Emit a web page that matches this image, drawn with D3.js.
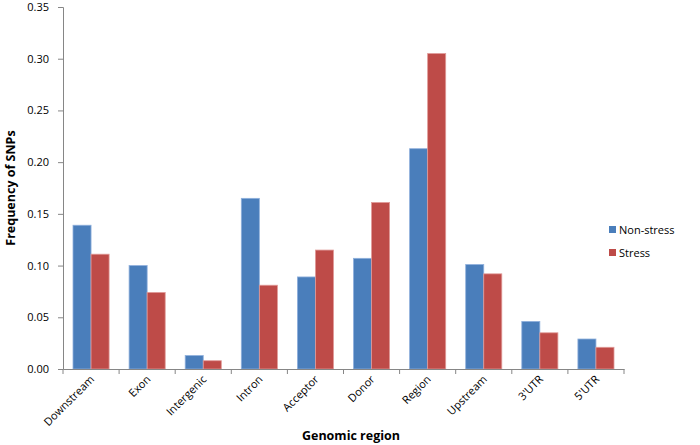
<!DOCTYPE html>
<html>
<head>
<meta charset="utf-8">
<script src="https://cdn.jsdelivr.net/npm/d3@7"></script>
<style>
body { margin: 0; background: #fff; }
svg text { font-family: "Open Sans", "Noto Sans", sans-serif; fill: #000; }
</style>
</head>
<body>
<svg id="chart" width="700" height="445"></svg>
<script>
var regions = ["Downstream", "Exon", "Intergenic", "Intron", "Acceptor", "Donor", "Region", "Upstream", "3'UTR", "5'UTR"];
var non_stress = [0.139, 0.100, 0.013, 0.165, 0.089, 0.107, 0.213, 0.101, 0.046, 0.029];
var stress = [0.111, 0.074, 0.008, 0.081, 0.115, 0.161, 0.305, 0.092, 0.035, 0.021];
var series_names = ["Non-stress", "Stress"];
var series_colors = ["#4a7ebb", "#be4b48"];
var y_ticks = [0, 0.05, 0.10, 0.15, 0.20, 0.25, 0.30, 0.35];

var svg = d3.select("#chart");
var plot_left = 63, plot_right = 624, plot_top = 7, plot_bottom = 369;

var x = d3.scaleBand().domain(regions).range([plot_left, plot_right]).paddingInner(0).paddingOuter(0);
var y = d3.scaleLinear().domain([0, 0.35]).range([plot_bottom, plot_top]);
var inner = d3.scaleBand().domain(series_names).range([10, x.bandwidth() - 10]);

var rows = regions.map((r, i) => ({ region: r, values: [non_stress[i], stress[i]] }));

function drawBars() {
    var groups = svg.selectAll("g.region")
        .data(rows)
        .enter()
        .append("g")
        .attr("class", "region")
        .attr("transform", d => "translate(" + x(d.region) + ",0)");

    groups.selectAll("rect")
        .data(d => d.values.map((v, k) => ({ name: series_names[k], value: v, k: k })))
        .enter()
        .append("rect")
        .attr("x", d => inner(d.name))
        .attr("width", inner.bandwidth())
        .attr("y", d => y(d.value))
        .attr("height", d => plot_bottom - y(d.value))
        .style("fill", d => series_colors[d.k])
        .style("stroke", d => d.k == 0 ? "#8fb0dc" : "#e09a98")
        .style("stroke-width", 0.8);
}

function drawAxes() {
    var yAxis = svg.append("g")
        .attr("transform", "translate(" + plot_left + ",0)")
        .call(d3.axisLeft(y).tickValues(y_ticks).tickFormat(d3.format(".2f")).tickSize(5).tickPadding(9));
    yAxis.selectAll("path, line").style("stroke", "#868686");
    yAxis.selectAll("text").style("font-size", "11px");

    var xAxis = svg.append("g")
        .attr("transform", "translate(0," + plot_bottom + ")")
        .call(d3.axisBottom(x).tickSize(0).tickFormat(""));
    xAxis.select("path").style("stroke", "#868686");

    svg.selectAll("line.xtick")
        .data(d3.range(regions.length + 1))
        .enter()
        .append("line")
        .attr("class", "xtick")
        .attr("x1", i => plot_left + i * x.bandwidth())
        .attr("x2", i => plot_left + i * x.bandwidth())
        .attr("y1", plot_bottom)
        .attr("y2", plot_bottom + 5)
        .style("stroke", "#868686");

    svg.selectAll("text.x-label")
        .data(regions)
        .enter()
        .append("text")
        .attr("class", "x-label")
        .attr("text-anchor", "end")
        .attr("font-size", "11px")
        .attr("transform", d => "translate(" + (x(d) + x.bandwidth() / 2 + 4) + "," + (plot_bottom + 11) + ") rotate(-45)")
        .text(d => d);

    svg.append("text")
        .attr("text-anchor", "middle")
        .attr("font-size", "12.5px")
        .attr("font-weight", "bold")
        .attr("transform", "translate(15," + ((plot_top + plot_bottom) / 2) + ") rotate(-90)")
        .text("Frequency of SNPs");

    svg.append("text")
        .attr("text-anchor", "middle")
        .attr("font-size", "12.5px")
        .attr("font-weight", "bold")
        .attr("x", 351)
        .attr("y", 440)
        .text("Genomic region");
}

function drawLegend() {
    var items = svg.selectAll("g.legend")
        .data(series_names)
        .enter()
        .append("g")
        .attr("class", "legend")
        .attr("transform", (d, i) => "translate(609," + (230 + i * 23) + ")");

    items.append("rect")
        .attr("x", 0)
        .attr("y", -4)
        .attr("width", 7)
        .attr("height", 7)
        .style("fill", (d, i) => series_colors[i]);

    items.append("text")
        .attr("x", 10)
        .attr("y", 4)
        .attr("font-size", "11px")
        .text(d => d);
}

drawBars();
drawAxes();
drawLegend();
</script>
</body>
</html>
